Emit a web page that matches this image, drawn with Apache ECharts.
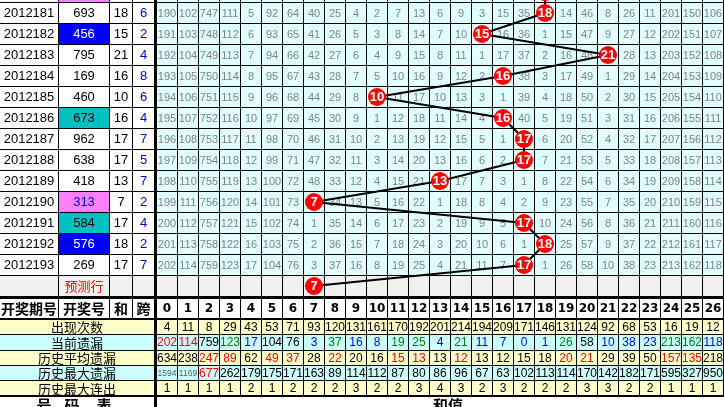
<!DOCTYPE html>
<html>
<head>
<meta charset="utf-8">
<script src="https://cdn.jsdelivr.net/npm/echarts@6/dist/echarts.min.js"></script>
<style>
html, body { margin: 0; padding: 0; background: #fff; }
#c { width: 724px; height: 407px; }
</style>
</head>
<body>
<div id="c"></div>
<script>
// ---- draw history (first row is only partly in view) ----
const periods = ['2012180', '2012181', '2012182', '2012183', '2012184', '2012185', '2012186',
  '2012187', '2012188', '2012189', '2012190', '2012191', '2012192', '2012193'];
const drawNumbers = ['288', '693', '456', '795', '169', '460', '673', '962', '638', '418', '313', '584', '576', '269'];
// number pattern: pair = two equal digits, run3 = three consecutive digits, run2 = two consecutive digits
const drawPattern = ['pair', '', 'run3', '', '', '', 'run2', '', '', '', 'pair', 'run2', 'run3', ''];
const drawSums = [18, 18, 15, 21, 16, 10, 16, 17, 17, 13, 7, 17, 18, 17];
const drawSpans = [6, 6, 2, 4, 8, 6, 4, 7, 5, 7, 2, 4, 2, 7];
const predictedSum = 7;
const predictLabel = '预测行';

// ---- sum value columns ----
const sumValues = ['0', '1', '2', '3', '4', '5', '6', '7', '8', '9', '10', '11', '12', '13',
  '14', '15', '16', '17', '18', '19', '20', '21', '22', '23', '24', '25', '26'];

// ---- omission of every sum value per draw (0 = drawn) ----
const missRows = [
  [189, 101, 746, 110, 4, 91, 63, 39, 24, 3, 1, 6, 12, 5, 8, 2, 14, 34, 0, 13, 45, 7, 25, 10, 200, 149, 105],
  [190, 102, 747, 111, 5, 92, 64, 40, 25, 4, 2, 7, 13, 6, 9, 3, 15, 35, 0, 14, 46, 8, 26, 11, 201, 150, 106],
  [191, 103, 748, 112, 6, 93, 65, 41, 26, 5, 3, 8, 14, 7, 10, 0, 16, 36, 1, 15, 47, 9, 27, 12, 202, 151, 107],
  [192, 104, 749, 113, 7, 94, 66, 42, 27, 6, 4, 9, 15, 8, 11, 1, 17, 37, 2, 16, 48, 0, 28, 13, 203, 152, 108],
  [193, 105, 750, 114, 8, 95, 67, 43, 28, 7, 5, 10, 16, 9, 12, 2, 0, 38, 3, 17, 49, 1, 29, 14, 204, 153, 109],
  [194, 106, 751, 115, 9, 96, 68, 44, 29, 8, 0, 11, 17, 10, 13, 3, 1, 39, 4, 18, 50, 2, 30, 15, 205, 154, 110],
  [195, 107, 752, 116, 10, 97, 69, 45, 30, 9, 1, 12, 18, 11, 14, 4, 0, 40, 5, 19, 51, 3, 31, 16, 206, 155, 111],
  [196, 108, 753, 117, 11, 98, 70, 46, 31, 10, 2, 13, 19, 12, 15, 5, 1, 0, 6, 20, 52, 4, 32, 17, 207, 156, 112],
  [197, 109, 754, 118, 12, 99, 71, 47, 32, 11, 3, 14, 20, 13, 16, 6, 2, 0, 7, 21, 53, 5, 33, 18, 208, 157, 113],
  [198, 110, 755, 119, 13, 100, 72, 48, 33, 12, 4, 15, 21, 0, 17, 7, 3, 1, 8, 22, 54, 6, 34, 19, 209, 158, 114],
  [199, 111, 756, 120, 14, 101, 73, 0, 34, 13, 5, 16, 22, 1, 18, 8, 4, 2, 9, 23, 55, 7, 35, 20, 210, 159, 115],
  [200, 112, 757, 121, 15, 102, 74, 1, 35, 14, 6, 17, 23, 2, 19, 9, 5, 0, 10, 24, 56, 8, 36, 21, 211, 160, 116],
  [201, 113, 758, 122, 16, 103, 75, 2, 36, 15, 7, 18, 24, 3, 20, 10, 6, 1, 0, 25, 57, 9, 37, 22, 212, 161, 117],
  [202, 114, 759, 123, 17, 104, 76, 3, 37, 16, 8, 19, 25, 4, 21, 11, 7, 0, 1, 26, 58, 10, 38, 23, 213, 162, 118]
];

// ---- statistics ----
const statLabels = ['出现次数', '当前遗漏', '历史平均遗漏', '历史最大遗漏', '历史最大连出'];
const hitCount = [4, 11, 8, 29, 43, 53, 71, 93, 120, 131, 161, 170, 192, 201, 214, 194, 209, 171, 146, 131, 124, 92, 68, 53, 16, 19, 12];
const missNow = [202, 114, 759, 123, 17, 104, 76, 3, 37, 16, 8, 19, 25, 4, 21, 11, 7, 0, 1, 26, 58, 10, 38, 23, 213, 162, 118];
const missAvg = [634, 238, 247, 89, 62, 49, 37, 28, 22, 20, 16, 15, 13, 13, 12, 13, 12, 15, 18, 20, 21, 29, 39, 50, 157, 135, 218];
const missMax = [1594, 1169, 677, 262, 179, 175, 171, 163, 89, 114, 112, 87, 80, 86, 96, 67, 63, 102, 113, 114, 170, 142, 182, 171, 595, 327, 950];
const maxStreak = [1, 1, 1, 1, 2, 1, 2, 2, 2, 3, 2, 2, 3, 4, 3, 2, 3, 2, 2, 2, 3, 3, 2, 2, 1, 1, 1];

// text tone per value (k black, r red, g green, b blue, s slate)
const missNowTone = 'rrkgbkkbgbbggbgbbbbgkbbbggb';
const missAvgTone = 'kkrrkrrkrkkrrkrkkkkrrkkkrrk';
const missMaxTone = 'ssrkkkkkkkkkkkkkkkkkkkkkkkk';

// ---- styling ----
const toneColor = { k: '#000000', r: '#FF0000', g: '#008000', b: '#0000FF', s: '#4C5C70' };
const patternFill = { pair: '#FF80FF', run3: '#0000FF', run2: '#00C0C0', '': '#FFFFFF' };
const patternText = { pair: '#0000FF', run3: '#FFFFFF', run2: '#000000', '': '#000000' };
const GRID_FILL = '#E0FFFF';
const PREDICT_FILL = '#F0F0F0';
const STAT_FILLS = ['#FFFFCC', '#CCFFFF', '#FFFFCC', '#CCFFFF', '#FFFFCC'];
const NUM_FONT = '"Liberation Sans", Arial, sans-serif';
const CJK_FONT = '"Noto Sans CJK SC", "Noto Sans", sans-serif';
// left table column borders (期号 | 开奖号 | 和 | 跨)
const leftEdges = [-1, 58, 109, 132, 154];
const LEFT_W = 155;

const rowKeys = periods.concat([predictLabel]);
const predictRow = periods.length;

const snap = v => Math.floor(v + 0.01) + 0.5;

function cell(x0, y0, x1, y1, fill, text, color, font) {
  const children = [{
    type: 'rect',
    shape: { x: x0, y: y0, width: x1 - x0, height: y1 - y0 },
    style: { fill: fill, stroke: '#000', lineWidth: 1 }
  }];
  if (text !== '' && text !== null && text !== undefined) {
    children.push({
      type: 'text',
      style: {
        text: String(text), x: (x0 + x1) / 2, y: (y0 + y1) / 2 + 0.5,
        align: 'center', verticalAlign: 'middle', fill: color, font: font
      }
    });
  }
  return { type: 'group', children: children };
}

function bandBox(api, c, r) {
  const p = api.coord([c, r]);
  const s = api.size([1, 1]);
  return [snap(p[0] - s[0] / 2), snap(p[1] - s[1] / 2), snap(p[0] + s[0] / 2), snap(p[1] + s[1] / 2)];
}

function leftBox(api, c, r) {
  const pL = api.coord([leftEdges[c], r]);
  const pR = api.coord([leftEdges[c + 1], r]);
  const h = api.size([0, 1])[1];
  return [snap(pL[0]), snap(pL[1] - h / 2), snap(pR[0]), snap(pL[1] + h / 2)];
}

// ---- series data ----
const leftData = [];
const mainData = [];
rowKeys.forEach((_, r) => {
  for (let c = 0; c < 4; c++) leftData.push([c, r]);
  sumValues.forEach((_, c) => mainData.push([c, r]));
});
const trendData = drawSums.map((s, r) => [s, r]).concat([[predictedSum, predictRow]]);
const headerLeft = ['开奖期号', '开奖号', '和', '跨'];
const statRows = [hitCount, missNow, missAvg, missMax, maxStreak];
const statTones = [null, missNowTone, missAvgTone, missMaxTone, null];
const statData = [];
const statLabelData = [];
statRows.forEach((row, r) => {
  statLabelData.push([0, r]);
  row.forEach((_, c) => statData.push([c, r]));
});

const hiddenValue = (grid) => ({ type: 'value', gridIndex: grid, min: 0, max: LEFT_W, show: false });
const hiddenCat = (grid, data, inverse) => ({ type: 'category', gridIndex: grid, data: data, show: false, inverse: !!inverse });
const gridBox = (left, top, width, height) => ({ left, top, width, height, outerBoundsMode: 'none', containLabel: false });

const ROW_H = 21;
const ROWS_TOP = -18.5;
const ROWS_H = ROW_H * rowKeys.length;

const option = {
  animation: false,
  backgroundColor: '#FFFFFF',
  grid: [
    gridBox(0, ROWS_TOP, LEFT_W, ROWS_H),
    gridBox(156.5, ROWS_TOP, 567, ROWS_H),
    gridBox(0, 297, LEFT_W, 22),
    gridBox(156.5, 297, 567, 22),
    gridBox(0, 319.5, LEFT_W, 76.5),
    gridBox(156.5, 319.5, 567, 76.5)
  ],
  xAxis: [
    hiddenValue(0), hiddenCat(1, sumValues),
    hiddenValue(2), hiddenCat(3, sumValues),
    hiddenValue(4), hiddenCat(5, sumValues)
  ],
  yAxis: [
    hiddenCat(0, rowKeys, true), hiddenCat(1, rowKeys, true),
    hiddenCat(2, ['h']), hiddenCat(3, ['h']),
    hiddenCat(4, statLabels, true), hiddenCat(5, statLabels, true)
  ],
  series: [
    {
      // period / number / sum / span table
      type: 'custom', xAxisIndex: 0, yAxisIndex: 0, data: leftData, z: 1, silent: true,
      renderItem: (params, api) => {
        const c = api.value(0), r = api.value(1);
        const b = leftBox(api, c, r);
        const font = '13px ' + NUM_FONT;
        if (r === predictRow) {
          return cell(b[0], b[1], b[2], b[3], PREDICT_FILL, c === 1 ? predictLabel : '', '#FF0000', '13px ' + CJK_FONT);
        }
        if (c === 0) return cell(b[0], b[1], b[2], b[3], '#FFFFFF', periods[r], '#000', font);
        if (c === 1) {
          const p = drawPattern[r];
          return cell(b[0], b[1], b[2], b[3], patternFill[p], drawNumbers[r], patternText[p], font);
        }
        if (c === 2) return cell(b[0], b[1], b[2], b[3], '#FFFFFF', drawSums[r], '#000', font);
        return cell(b[0], b[1], b[2], b[3], '#FFFFFF', drawSpans[r], '#0000CC', font);
      }
    },
    {
      // omission grid of sum values
      type: 'custom', xAxisIndex: 1, yAxisIndex: 1, data: mainData, z: 1, silent: true,
      renderItem: (params, api) => {
        const c = api.value(0), r = api.value(1);
        const b = bandBox(api, c, r);
        if (r === predictRow) return cell(b[0], b[1], b[2], b[3], PREDICT_FILL, '', '#000', '');
        const v = missRows[r][c];
        return cell(b[0], b[1], b[2], b[3], GRID_FILL, v === 0 ? '' : v, '#808080', '11px ' + NUM_FONT);
      }
    },
    {
      // trend line through the drawn sums
      type: 'line', xAxisIndex: 1, yAxisIndex: 1, data: trendData, z: 3, silent: true,
      symbol: 'none', lineStyle: { color: '#000000', width: 2 }
    },
    {
      type: 'scatter', xAxisIndex: 1, yAxisIndex: 1, data: trendData, z: 4, silent: true,
      symbol: 'circle', symbolSize: 18,
      itemStyle: { color: '#FF0000', opacity: 1 },
      label: {
        show: true, position: 'inside', color: '#FFFFFF', fontWeight: 'bold', fontSize: 13,
        fontFamily: NUM_FONT, formatter: p => sumValues[p.value[0]]
      }
    },
    {
      type: 'custom', xAxisIndex: 2, yAxisIndex: 2, data: [[0, 0], [1, 0], [2, 0], [3, 0]], z: 1, silent: true,
      renderItem: (params, api) => {
        const c = api.value(0);
        const b = leftBox(api, c, 0);
        return cell(b[0], b[1], b[2], b[3], '#FFFFFF', headerLeft[c], '#000', 'bold 14px ' + CJK_FONT);
      }
    },
    {
      type: 'custom', xAxisIndex: 3, yAxisIndex: 3, data: sumValues.map((_, c) => [c, 0]), z: 1, silent: true,
      renderItem: (params, api) => {
        const c = api.value(0);
        const b = bandBox(api, c, 0);
        return cell(b[0], b[1], b[2], b[3], '#FFFFFF', sumValues[c], '#000', 'bold 12px "DejaVu Sans", sans-serif');
      }
    },
    {
      type: 'custom', xAxisIndex: 4, yAxisIndex: 4, data: statLabelData, z: 1, silent: true,
      renderItem: (params, api) => {
        const r = api.value(1);
        const p = api.coord([0, r]);
        const h = api.size([0, 1])[1];
        const q = api.coord([leftEdges[4], r]);
        return cell(snap(-1), snap(p[1] - h / 2), snap(q[0]), snap(p[1] + h / 2), STAT_FILLS[r], statLabels[r], '#000', '13px ' + CJK_FONT);
      }
    },
    {
      type: 'custom', xAxisIndex: 5, yAxisIndex: 5, data: statData, z: 1, silent: true,
      renderItem: (params, api) => {
        const c = api.value(0), r = api.value(1);
        const b = bandBox(api, c, r);
        const v = statRows[r][c];
        const tone = statTones[r] ? statTones[r][c] : 'k';
        const font = (String(v).length > 3 ? '8.5px ' : '12px ') + NUM_FONT;
        return cell(b[0], b[1], b[2], b[3], STAT_FILLS[r], v, toneColor[tone], font);
      }
    }
  ],
  graphic: [
    { type: 'rect', z: 100, shape: { x: 154, y: 0, width: 3, height: 407 }, style: { fill: '#000' } },
    { type: 'rect', z: 100, shape: { x: 0, y: 297, width: 724, height: 2 }, style: { fill: '#000' } },
    { type: 'rect', z: 100, shape: { x: 0, y: 318, width: 724, height: 2 }, style: { fill: '#000' } },
    { type: 'rect', z: 100, shape: { x: 0, y: 395, width: 724, height: 2 }, style: { fill: '#000' } },
    { type: 'text', z: 100, style: { text: '号', x: 44, y: 398, align: 'center', verticalAlign: 'top', font: 'bold 15px ' + CJK_FONT, fill: '#000' } },
    { type: 'text', z: 100, style: { text: '码', x: 72, y: 398, align: 'center', verticalAlign: 'top', font: 'bold 15px ' + CJK_FONT, fill: '#000' } },
    { type: 'text', z: 100, style: { text: '表', x: 104, y: 398, align: 'center', verticalAlign: 'top', font: 'bold 15px ' + CJK_FONT, fill: '#000' } },
    { type: 'text', z: 100, style: { text: '和值', x: 448, y: 398, align: 'center', verticalAlign: 'top', font: 'bold 15px ' + CJK_FONT, fill: '#000' } }
  ]
};

const chart = echarts.init(document.getElementById('c'), null, { renderer: 'canvas' });
chart.setOption(option);
</script>
</body>
</html>
